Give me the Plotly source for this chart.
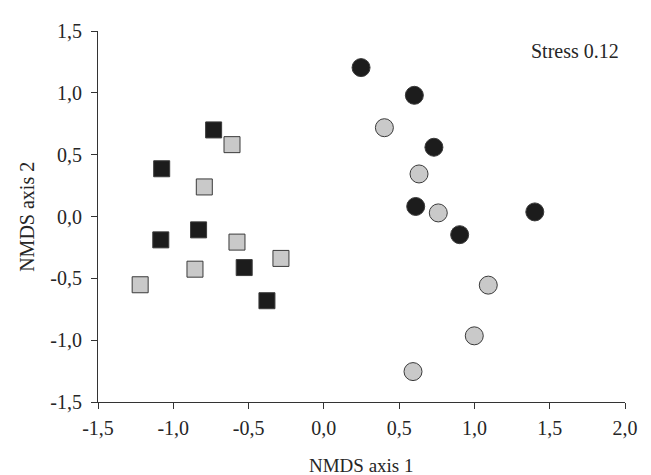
import plotly.graph_objects as go

# Squares (group A)
sq_black_x = [-0.732, -1.077, -0.832, -1.083, -0.529, -0.378]
sq_black_y = [0.700, 0.386, -0.108, -0.189, -0.413, -0.681]
sq_gray_x = [-0.610, -0.794, -0.577, -0.285, -0.856, -1.220]
sq_gray_y = [0.581, 0.239, -0.207, -0.339, -0.426, -0.552]

# Circles (group B)
ci_black_x = [0.247, 0.601, 0.731, 0.610, 1.401, 0.902]
ci_black_y = [1.204, 0.980, 0.560, 0.081, 0.037, -0.147]
ci_gray_x = [0.402, 0.632, 0.760, 1.092, 0.999, 0.592]
ci_gray_y = [0.718, 0.344, 0.029, -0.555, -0.965, -1.254]

x_ticks = [-1.5, -1.0, -0.5, 0.0, 0.5, 1.0, 1.5, 2.0]
x_labels = ["-1,5", "-1,0", "-0,5", "0,0", "0,5", "1,0", "1,5", "2,0"]
y_ticks = [-1.5, -1.0, -0.5, 0.0, 0.5, 1.0, 1.5]
y_labels = ["-1,5", "-1,0", "-0,5", "0,0", "0,5", "1,0", "1,5"]

BLACK = "#1c1c1c"
GRAY = "#c9c9c9"
EDGE = "#3a3a3a"
FONT = "Liberation Serif"
TXT = "#262626"

fig = go.Figure()
fig.add_trace(go.Scatter(x=sq_black_x, y=sq_black_y, mode="markers",
                         marker=dict(symbol="square", size=16, color=BLACK,
                                     line=dict(color=EDGE, width=1))))
fig.add_trace(go.Scatter(x=sq_gray_x, y=sq_gray_y, mode="markers",
                         marker=dict(symbol="square", size=16, color=GRAY,
                                     line=dict(color=EDGE, width=1))))
fig.add_trace(go.Scatter(x=ci_black_x, y=ci_black_y, mode="markers",
                         marker=dict(symbol="circle", size=18, color=BLACK,
                                     line=dict(color=EDGE, width=1))))
fig.add_trace(go.Scatter(x=ci_gray_x, y=ci_gray_y, mode="markers",
                         marker=dict(symbol="circle", size=18, color=GRAY,
                                     line=dict(color=EDGE, width=1))))

axis_common = dict(showgrid=False, zeroline=False, showline=True,
                   linecolor="#333333", linewidth=1, ticks="outside",
                   ticklen=6, tickwidth=1, tickcolor="#333333",
                   tickfont=dict(family=FONT, size=20, color=TXT))

fig.update_xaxes(range=[-1.5, 2.0], tickmode="array", tickvals=x_ticks,
                 ticktext=x_labels, ticklabelstandoff=2, **axis_common)
fig.update_yaxes(range=[-1.5, 1.5], tickmode="array", tickvals=y_ticks,
                 ticktext=y_labels, ticklabelstandoff=5, **axis_common)

fig.add_annotation(x=0.5, y=-0.17, xref="paper", yref="paper", text="NMDS axis 1",
                   showarrow=False, xanchor="center", yanchor="middle",
                   font=dict(family=FONT, size=19, color=TXT))
fig.add_annotation(x=-0.136, y=0.5, xref="paper", yref="paper", text="NMDS axis 2",
                   showarrow=False, xanchor="center", yanchor="middle", textangle=-90,
                   font=dict(family=FONT, size=20, color=TXT))
fig.add_annotation(x=0.906, y=1.335, xref="paper", yref="y", text="Stress 0.12",
                   showarrow=False, xanchor="center", yanchor="middle",
                   font=dict(family=FONT, size=20, color=TXT))

# page body has an 8px margin, so margins are offset to land the plot area
fig.update_layout(width=651, height=475, showlegend=False,
                  plot_bgcolor="white", paper_bgcolor="white",
                  margin=dict(l=90, r=34, t=14, b=81))

fig.write_html("out.html")
